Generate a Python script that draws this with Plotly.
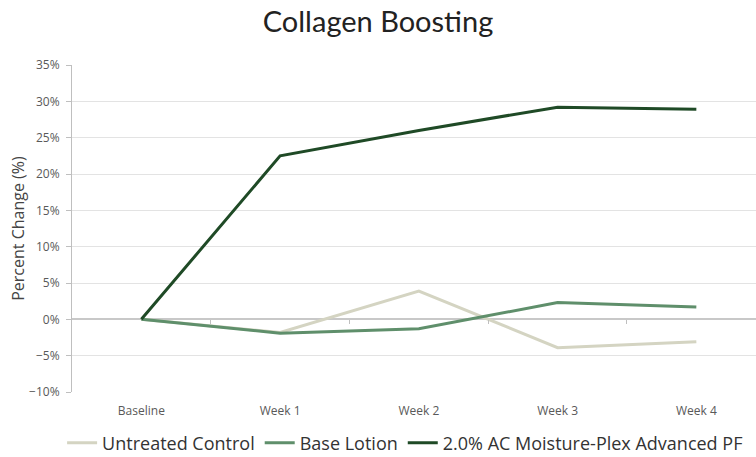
import plotly.graph_objects as go

categories = ["Baseline", "Week 1", "Week 2", "Week 3", "Week 4"]
untreated = [0, -1.8, 3.9, -3.9, -3.1]
base_lotion = [0, -1.9, -1.3, 2.3, 1.7]
ac_moisture = [0, 22.5, 26.0, 29.2, 28.9]

series = [
    ("Untreated Control", untreated, "#d4d4c2"),
    ("Base Lotion", base_lotion, "#5f8f6b"),
    ("2.0% AC Moisture-Plex Advanced PF", ac_moisture, "#1f4a26"),
]

fig = go.Figure()
for name, vals, col in series:
    fig.add_trace(go.Scatter(x=list(range(len(categories))), y=vals, name=name,
                             mode="lines", line=dict(color=col, width=3)))

axis_font = dict(family="Open Sans, sans-serif", size=12, color="#595959")
fig.update_layout(
    width=756, height=457,
    margin=dict(l=72, r=0, t=65, b=65, autoexpand=False),
    paper_bgcolor="white", plot_bgcolor="white",
    title=dict(text="Collagen Boosting", x=0.5, xanchor="center", yref="container",
               y=1 - 22 / 457, yanchor="middle",
               font=dict(family="Lato, sans-serif", size=29, color="#222222")),
    xaxis=dict(range=[-0.5, 4.43], tickmode="array", tickvals=list(range(len(categories))),
               ticktext=categories, showgrid=False, zeroline=False, showline=False,
               ticks="", tickfont=axis_font, automargin=False, ticklabelstandoff=10),
    xaxis2=dict(overlaying="x", matches="x", anchor="free", position=10/45, range=[-0.5, 4.43],
                tickmode="array", tickvals=[0.5, 1.5, 2.5, 3.5], ticks="outside", ticklen=4,
                tickcolor="#bfbfbf", showticklabels=False, showgrid=False, showline=False,
                zeroline=False, side="bottom", automargin=False),
    yaxis=dict(range=[-10, 35], dtick=5, ticksuffix="%", showgrid=True, gridcolor="#e3e3e3",
               gridwidth=1, zeroline=True, zerolinecolor="#c8c8c8", zerolinewidth=1.5,
               showline=True, linecolor="#bfbfbf", ticks="outside", ticklen=5, tickcolor="#bfbfbf",
               tickfont=axis_font, automargin=False, ticklabelstandoff=4,
               title=dict(text="Percent Change (%)", standoff=0,
                          font=dict(family="Open Sans, sans-serif", size=16, color="#444444"))),
    legend=dict(orientation="h", x=0.487, xanchor="center", yref="container",
                y=(457 - 443) / 457, yanchor="middle",
                font=dict(family="Open Sans, sans-serif", size=18, color="#333333"),
                itemwidth=30, tracegroupgap=0),
    showlegend=True,
)
fig.add_trace(go.Scatter(x=[None], y=[None], xaxis="x2", showlegend=False, hoverinfo="skip"))
fig.write_html("out.html", config={"displayModeBar": False},
               post_script="document.body.style.margin='0';")
